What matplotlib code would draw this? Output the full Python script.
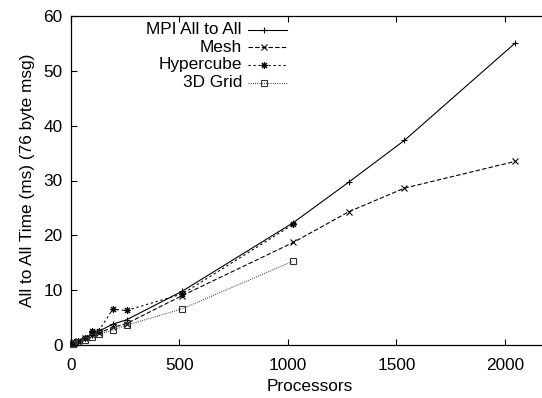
import matplotlib
matplotlib.use("Agg")
import matplotlib.pyplot as plt
from matplotlib.lines import Line2D

plt.rcParams['font.family'] = ['Liberation Sans', 'DejaVu Sans']
plt.rcParams['font.size'] = 12.4

# processors / time (ms)
mpi_x = [8, 16, 32, 64, 96, 128, 192, 256, 512, 1024, 1280, 1536, 2048]
mpi_y = [0.3, 0.5, 0.8, 1.3, 1.9, 2.5, 3.8, 4.6, 9.8, 22.3, 29.7, 37.3, 55.1]

mesh_x = [8, 16, 32, 64, 96, 128, 192, 256, 512, 1024, 1280, 1536, 2048]
mesh_y = [0.3, 0.4, 0.7, 1.2, 1.8, 2.2, 3.2, 3.9, 9.0, 18.7, 24.3, 28.6, 33.5]

hyper_x = [8, 16, 32, 64, 96, 128, 192, 256, 512, 1024]
hyper_y = [0.3, 0.5, 0.8, 1.3, 2.6, 2.6, 6.5, 6.3, 9.3, 22.0]

grid_x = [8, 16, 32, 64, 96, 128, 192, 256, 512, 1024]
grid_y = [0.2, 0.4, 0.6, 0.9, 1.4, 2.0, 2.7, 3.6, 6.6, 15.3]

labels = ['MPI All to All', 'Mesh', 'Hypercube', '3D Grid']
styles = [
    dict(ls='-', marker='+', color='black'),
    dict(ls=(0, (4, 2)), marker='x', color='black'),
    dict(ls=(0, (2, 2.5)), marker=(8, 2, 0), color='black'),
    dict(ls=(0, (0.8, 1.2)), marker='s', mfc='none', color='#333333'),
]

fig = plt.figure(figsize=(5.42, 3.98), dpi=100)
W, H = 542.0, 398.0
x0, x1, y0, y1 = 71, 548.4, 345, 16
ax = fig.add_axes([x0 / W, (H - y0) / H, (x1 - x0) / W, (y0 - y1) / H])

series = [(mpi_x, mpi_y), (mesh_x, mesh_y), (hyper_x, hyper_y), (grid_x, grid_y)]
for (xs, ys), st in zip(series, styles):
    ax.plot(xs, ys, lw=0.8, ms=5, mew=0.8, clip_on=False, **st)

ax.set_xlim(0, 2200)
ax.set_ylim(0, 60)
ax.set_xticks([0, 500, 1000, 1500, 2000])
ax.set_yticks(range(0, 61, 10))
ax.tick_params(direction='in', length=4, width=0.8, top=True, right=True, pad=6)
ax.tick_params(axis='x', pad=9)
for s in ax.spines.values():
    s.set_linewidth(0.9)

ax.set_xlabel('Processors', labelpad=5)
ax.set_ylabel('All to All Time (ms) (76 byte msg)', labelpad=6)

# gnuplot style key: right-aligned text, sample to the right
aw = x1 - x0
ah = y0 - y1
rows = [29.5, 47.3, 65.0, 82.7]
for lab, st, py in zip(labels, styles, rows):
    fy = (y0 - py) / ah
    ax.text((242 - x0) / aw, fy, lab, transform=ax.transAxes, ha='right', va='center')
    ls = st['ls']
    ax.add_line(Line2D([(248 - x0) / aw, (287 - x0) / aw], [fy, fy], transform=ax.transAxes,
                       lw=0.8, ls=ls, color=st['color']))
    mk = {k: v for k, v in st.items() if k != 'ls'}
    ax.add_line(Line2D([(264 - x0) / aw], [fy], transform=ax.transAxes,
                       ls='none', ms=5, mew=0.8, **mk))

fig.savefig('out.png', dpi=100)
